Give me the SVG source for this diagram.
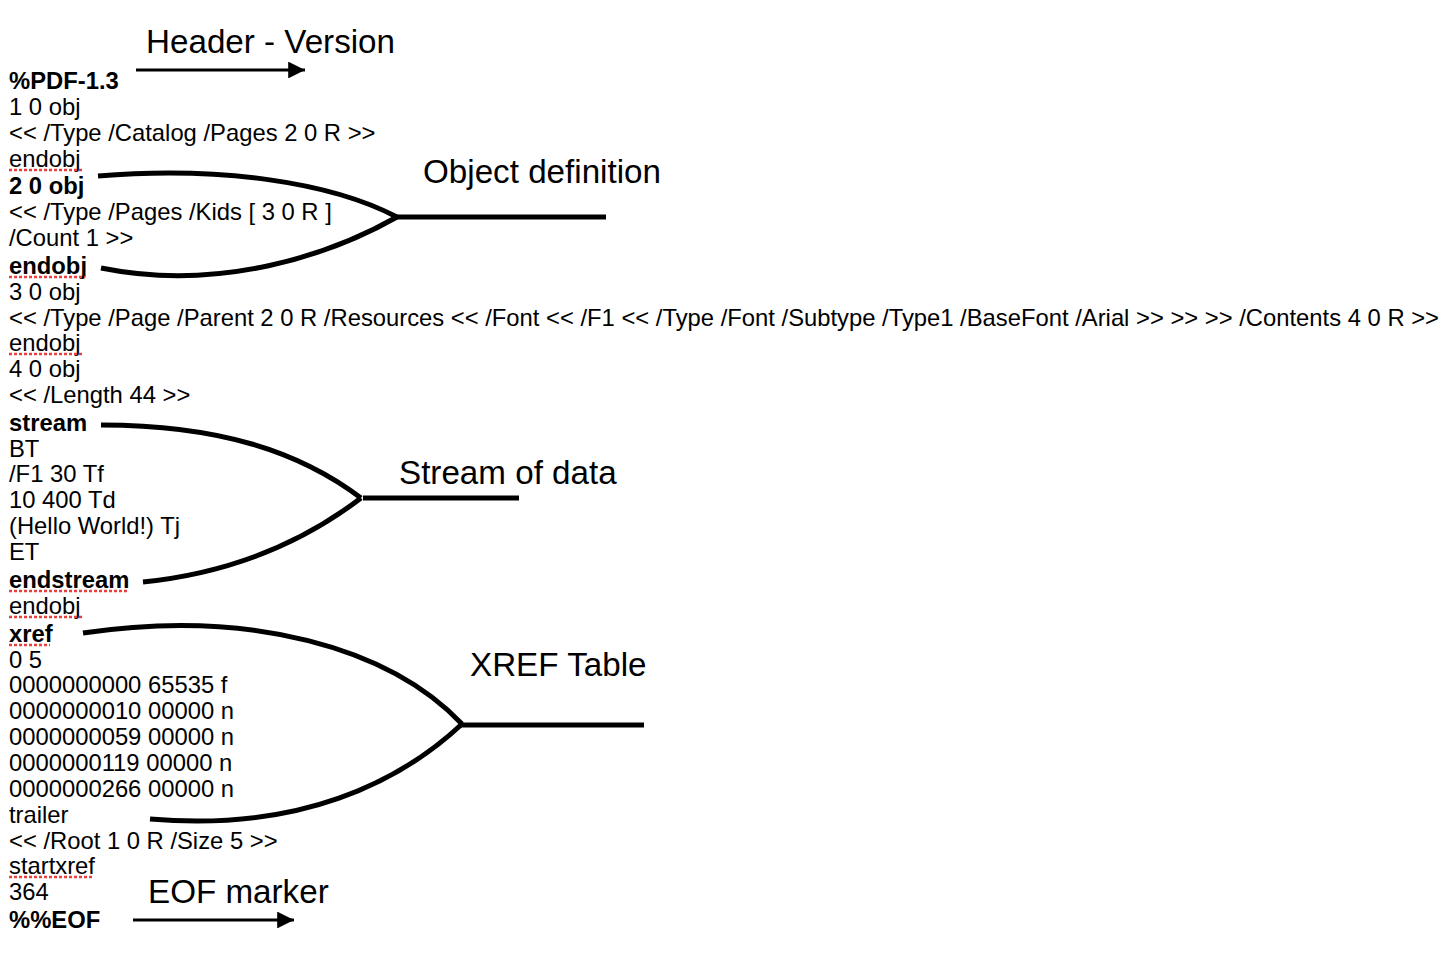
<svg xmlns="http://www.w3.org/2000/svg" width="1453" height="954" viewBox="0 0 1453 954">
<style>
.t{font-family:"Liberation Sans",Arial,sans-serif;font-size:23.8px;fill:#000}
.b{font-weight:bold}
.l{font-family:"Liberation Sans",Arial,sans-serif;font-size:33.2px;fill:#000}
.c{fill:none;stroke:#000;stroke-width:5;stroke-linecap:butt}
.a{fill:none;stroke:#000;stroke-width:3}
.sq{stroke:#e8403c;stroke-width:2.5;stroke-dasharray:3 2;fill:none}
</style>
<defs>
<marker id="ah" viewBox="0 0 10 10" refX="10" refY="5" markerWidth="6.2" markerHeight="5.6" orient="auto" markerUnits="strokeWidth">
<path d="M0,0 L10,5 L0,10 Z" fill="#000"/>
</marker>
</defs>
<rect width="1453" height="954" fill="#fff"/>
<g id="pdf-source">
<text class="t b" x="9" y="89">%PDF-1.3</text>
<text class="t" x="9" y="115">1 0 obj</text>
<text class="t" x="9" y="141">&lt;&lt; /Type /Catalog /Pages 2 0 R &gt;&gt;</text>
<text class="t" x="9" y="167">endobj</text>
<text class="t b" x="9" y="194">2 0 obj</text>
<text class="t" x="9" y="220">&lt;&lt; /Type /Pages /Kids [ 3 0 R ]</text>
<text class="t" x="9" y="246">/Count 1 &gt;&gt;</text>
<text class="t b" x="9" y="274">endobj</text>
<text class="t" x="9" y="300">3 0 obj</text>
<text class="t" x="9" y="326">&lt;&lt; /Type /Page /Parent 2 0 R /Resources &lt;&lt; /Font &lt;&lt; /F1 &lt;&lt; /Type /Font /Subtype /Type1 /BaseFont /Arial &gt;&gt; &gt;&gt; &gt;&gt; /Contents 4 0 R &gt;&gt;</text>
<text class="t" x="9" y="351">endobj</text>
<text class="t" x="9" y="377">4 0 obj</text>
<text class="t" x="9" y="403">&lt;&lt; /Length 44 &gt;&gt;</text>
<text class="t b" x="9" y="431">stream</text>
<text class="t" x="9" y="457">BT</text>
<text class="t" x="9" y="482">/F1 30 Tf</text>
<text class="t" x="9" y="508">10 400 Td</text>
<text class="t" x="9" y="534">(Hello World!) Tj</text>
<text class="t" x="9" y="560">ET</text>
<text class="t b" x="9" y="588">endstream</text>
<text class="t" x="9" y="614">endobj</text>
<text class="t b" x="9" y="642">xref</text>
<text class="t" x="9" y="668">0 5</text>
<text class="t" x="9" y="693">0000000000 65535 f</text>
<text class="t" x="9" y="719">0000000010 00000 n</text>
<text class="t" x="9" y="745">0000000059 00000 n</text>
<text class="t" x="9" y="771">0000000119 00000 n</text>
<text class="t" x="9" y="797">0000000266 00000 n</text>
<text class="t" x="9" y="823">trailer</text>
<text class="t" x="9" y="849">&lt;&lt; /Root 1 0 R /Size 5 &gt;&gt;</text>
<text class="t" x="9" y="874">startxref</text>
<text class="t" x="9" y="900">364</text>
<text class="t b" x="9" y="928">%%EOF</text>
</g>
<g id="spellcheck-marks">
<line class="sq" x1="9" y1="170" x2="82" y2="170"/>
<line class="sq" x1="9" y1="277" x2="85" y2="277"/>
<line class="sq" x1="9" y1="354" x2="82" y2="354"/>
<line class="sq" x1="9" y1="591" x2="128" y2="591"/>
<line class="sq" x1="9" y1="617" x2="82" y2="617"/>
<line class="sq" x1="9" y1="645" x2="50" y2="645"/>
<line class="sq" x1="9" y1="877" x2="93" y2="877"/>
</g>
<g id="label-header"><text class="l" x="146" y="53">Header - Version</text></g>
<g id="label-object"><text class="l" x="423" y="183">Object definition</text></g>
<g id="label-stream"><text class="l" x="399" y="484">Stream of data</text></g>
<g id="label-xref"><text class="l" x="470" y="676">XREF Table</text></g>
<g id="label-eof"><text class="l" x="148" y="903">EOF marker</text></g>
<g id="connectors">
<line class="a" x1="136" y1="70" x2="305" y2="70" marker-end="url(#ah)"/>
<line class="a" x1="133" y1="920" x2="294" y2="920" marker-end="url(#ah)"/>
<path class="c" d="M98,176 C220,166 330,182 397,217"/>
<path class="c" d="M101,268 C220,292 330,255 397,217"/>
<line class="c" x1="395" y1="217" x2="606" y2="217"/>
<path class="c" d="M101,425 C220,425 300,452 361,498"/>
<path class="c" d="M143,582 C240,572 310,537 361,498"/>
<line class="c" x1="363" y1="498" x2="519" y2="498"/>
<path class="c" d="M83,633 C250,608 390,648 462,724"/>
<path class="c" d="M150,819 C300,832 400,782 462,724"/>
<line class="c" x1="460" y1="725" x2="644" y2="725"/>
</g>
</svg>
